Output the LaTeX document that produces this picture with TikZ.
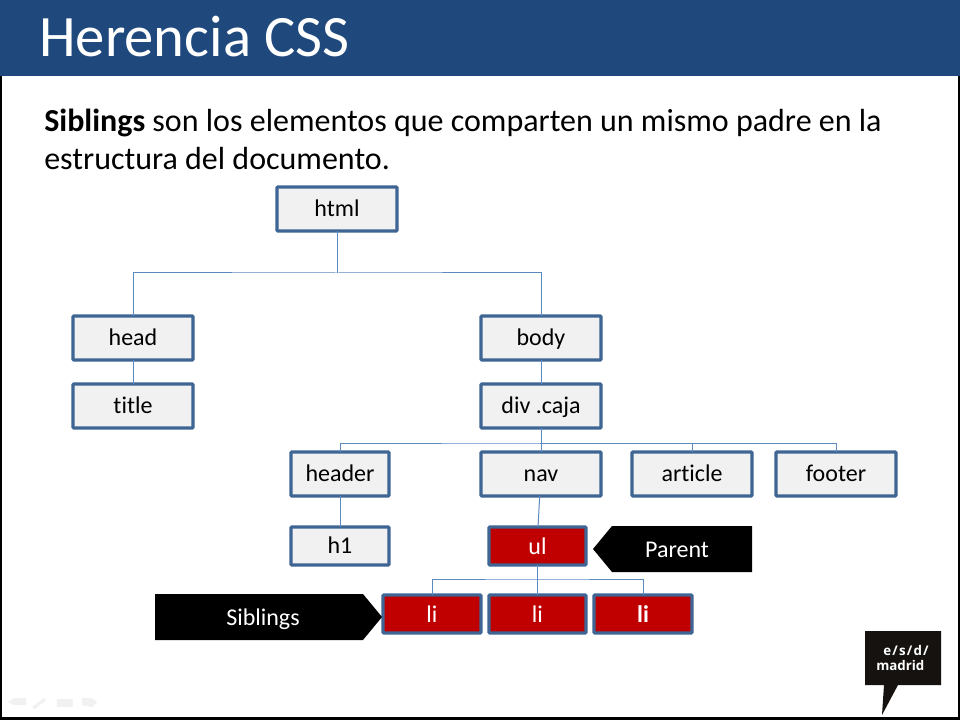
\documentclass[tikz,border=0pt]{standalone}
\usepackage{fontspec}
\setmainfont[Ligatures=NoCommon]{Carlito}
\newfontfamily\logofont{Open Sans}
\newfontfamily\logofontwide[LetterSpace=9]{Open Sans}
\definecolor{headblue}{HTML}{1F497D}
\definecolor{boxline}{HTML}{3E6594}
\definecolor{boxfill}{HTML}{F1F1F1}
\definecolor{linkblue}{HTML}{5B8ABF}
\definecolor{ulred}{HTML}{C00000}
\definecolor{logoblack}{HTML}{16120F}
\definecolor{faint}{HTML}{F1F1F1}
\tikzset{
  box/.style={draw=boxline,line width=2.5pt,fill=boxfill,rounded corners=0.8pt,inner sep=0pt,outer sep=0pt,
    font=\fontsize{18}{21}\selectfont,text=black,text height=12.5pt,text depth=1.5pt,align=center},
  redbox/.style={box,fill=ulred,text=white,text depth=0.5pt},
  link/.style={draw=linkblue,line width=0.75pt},
  callout/.style={fill=black,draw=none},
  calltext/.style={font=\fontsize{18}{21}\selectfont,text=white,inner sep=0pt},
  logotext/.style={anchor=base west,inner sep=0pt,text=white},
  icon/.style={fill=faint,draw=none}
}
\newcommand{\boxat}[7]{\node[#6,minimum width={(#4-#2-2)*0.75pt},minimum height={(#5-#3-2)*0.75pt}] (#1) at ({(#2+#4)/2},{(#3+#5)/2}) {#7};}
\begin{document}
\begin{tikzpicture}[x=0.75pt,y=-0.75pt]
\useasboundingbox (0,0) rectangle (960,720);
\fill[white] (0,0) rectangle (960,720);
% frame
\fill[black] (0,0) rectangle (2,720);
\fill[black] (958,0) rectangle (960,720);
\fill[black] (0,717) rectangle (960,720);
% header band
\fill[headblue] (0,0) rectangle (960,76);
\node[anchor=base west,inner sep=0pt,text=white,font=\fontsize{44}{52}\selectfont] (title) at (39,56.5) {Herencia CSS};
\node[anchor=base west,inner sep=0pt,font=\fontsize{24}{29}\selectfont] (line1) at (44,132) {\textbf{Siblings} son los elementos que comparten un mismo padre en la};
\node[anchor=base west,inner sep=0pt,font=\fontsize{24}{29}\selectfont] (line2) at (44,170) {estructura del documento.};
% boxes
\boxat{html}{276}{186}{398}{232}{box}{html}
\boxat{head}{72}{315}{194}{361}{box}{head}
\boxat{body}{480}{315}{602}{361}{box}{body}
\boxat{title2}{72}{383}{194}{429}{box}{title}
\boxat{div}{480}{383}{602}{429}{box}{div .caja}
\boxat{header}{290}{451}{390}{497}{box}{header}
\boxat{nav}{480}{451}{602}{497}{box}{nav}
\boxat{article}{631}{451}{753}{497}{box}{article}
\boxat{footer}{775}{451}{897}{497}{box}{footer}
\boxat{hone}{290}{526}{390}{566}{box}{h1}
\boxat{ul}{488}{526}{587}{566}{redbox}{ul}
\boxat{lia}{382}{594}{482}{634}{redbox}{li}
\boxat{lib}{488}{594}{587}{634}{redbox}{li}
\boxat{lic}{593}{594}{693}{634}{redbox}{\textbf{li}}
% connectors
\coordinate (busa) at (337,273);
\coordinate (busb) at (540,443);
\coordinate (busc) at (537,579);
\draw[link] (html.south) -- (html.south |- busa);
\draw[link] (head.north) |- (busa) -| (body.north);
\draw[link] (head.south) -- (title2.north);
\draw[link] (body.south) -- (div.north);
\draw[link] (div.south) -- (nav.north);
\draw[link] (header.north) |- (busb) -| (article.north);
\draw[link] (busb) -| (footer.north);
\draw[link] (header.south) -- (hone.north);
\draw[link] ([xshift=-1pt]nav.south) -- ([xshift=0.4pt]ul.north);
\draw[link] (ul.south) -- (lib.north);
\draw[link] (lia.north) |- (busc) -| (lic.north);
% callouts
\fill[callout] (593,549) -- (612,526) -- (752,526) -- (752,572) -- (612,572) -- cycle;
\node[calltext] (parent) at (677,550) {Parent};
\fill[callout] (155,594) -- (363,594) -- (382,617) -- (363,640) -- (155,640) -- cycle;
\node[calltext] (sib) at (263,619.5) {Siblings};
% logo
\fill[logoblack] (865,631) -- (941,631) -- (941,685) -- (898,685) -- (882,715) -- (884,685) -- (865,685) -- cycle;
\node[logotext,font=\logofontwide\bfseries\fontsize{10}{12}\selectfont] (logoa) at (883,655) {e/s/d/};
\node[logotext,font=\logofont\bfseries\fontsize{10}{12}\selectfont] (logob) at (876,670) {madrid};
% faint slide controls
\fill[icon] (8,702) -- (14,698) -- (26,698) -- (26,705) -- (14,705) -- cycle;
\fill[icon] (32,707) -- (44,698) -- (46,700) -- (35,709) -- cycle;
\fill[icon] (57,699) rectangle (73,707);
\fill[icon] (82,698) -- (92,698) -- (97,702) -- (92,707) -- (82,705) -- cycle;
\end{tikzpicture}
\end{document}
